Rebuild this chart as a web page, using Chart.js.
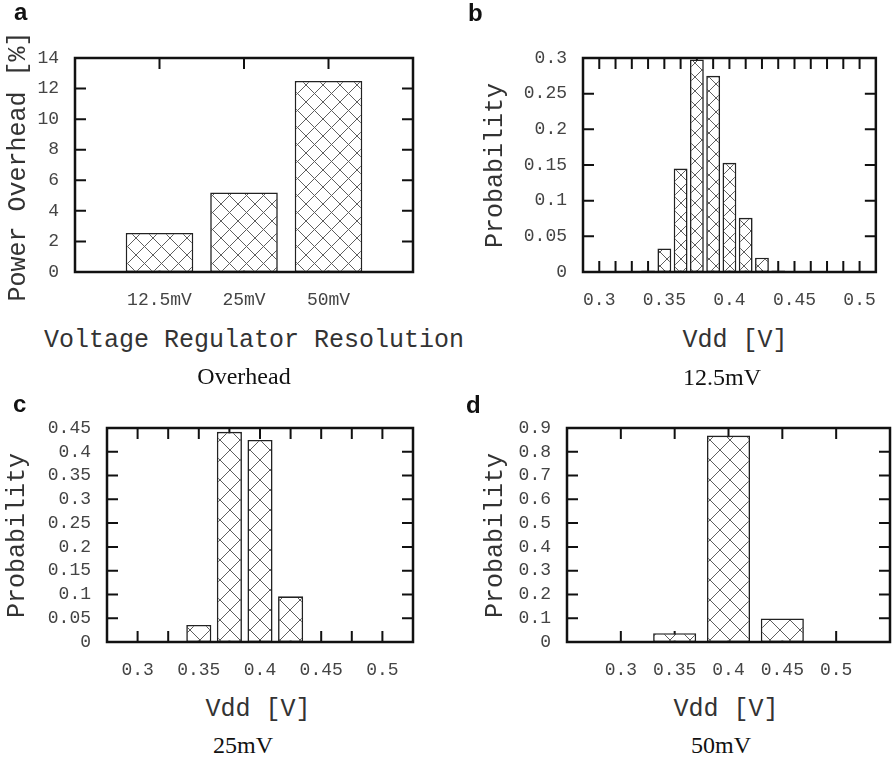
<!DOCTYPE html>
<html>
<head>
<meta charset="utf-8">
<script src="https://cdn.jsdelivr.net/npm/chart.js@4.4.1/dist/chart.umd.min.js"></script>
<style>
  body { margin: 0; background: #fff; }
  #page { position: relative; width: 893px; height: 759px; overflow: hidden; }
  #page canvas { position: absolute; }
  .txt { position: absolute; white-space: nowrap; text-align: center; }
</style>
</head>
<body>
<div id="page">
  <canvas id="chartA" width="440" height="320" style="left:0;top:0"></canvas>
  <canvas id="chartB" width="443" height="320" style="left:450px;top:0"></canvas>
  <canvas id="chartC" width="440" height="310" style="left:0;top:380px"></canvas>
  <canvas id="chartD" width="443" height="310" style="left:450px;top:380px"></canvas>
</div>
<script>
// (a) power overhead for each regulator resolution
const resolutions = ['12.5mV', '25mV', '50mV'];
const overheadPct = [2.55, 5.2, 12.5];
const overheadTicks = [0, 2, 4, 6, 8, 10, 12, 14];

// (b)-(d) Vdd distributions, bin centre -> probability
const vdd125 = [0.3375, 0.35, 0.3625, 0.375, 0.3875, 0.4, 0.4125, 0.425, 0.4375, 0.45];
const prob125 = [0.002, 0.033, 0.145, 0.298, 0.275, 0.153, 0.076, 0.020, 0.002, 0.001];
const vdd25 = [0.35, 0.375, 0.4, 0.425, 0.45];
const prob25 = [0.036, 0.442, 0.425, 0.096, 0.001];
const vdd50 = [0.35, 0.4, 0.45];
const prob50 = [0.037, 0.868, 0.099];

const vddTicks = [0.3, 0.35, 0.4, 0.45, 0.5];
const vddMarks125 = [0.3, 0.3125, 0.325, 0.3375, 0.35, 0.3625, 0.375, 0.3875, 0.4,
                     0.4125, 0.425, 0.4375, 0.45, 0.4625, 0.475, 0.4875, 0.5];
const vddMarks25 = [0.3, 0.325, 0.35, 0.375, 0.4, 0.425, 0.45, 0.475, 0.5];
const probTicks125 = [0, 0.05, 0.1, 0.15, 0.2, 0.25, 0.3];
const probTicks25 = [0, 0.05, 0.1, 0.15, 0.2, 0.25, 0.3, 0.35, 0.4, 0.45];
const probTicks50 = [0, 0.1, 0.2, 0.3, 0.4, 0.5, 0.6, 0.7, 0.8, 0.9];

const MONO = '"Liberation Mono", "Courier New", monospace';
const SERIF = '"Liberation Serif", "Times New Roman", serif';
const SANS = '"Liberation Sans", Arial, sans-serif';

// gnuplot-ish cross hatch fill
function crossHatch(size) {
  const c = document.createElement('canvas');
  c.width = c.height = size;
  const g = c.getContext('2d');
  g.fillStyle = '#fff';
  g.fillRect(0, 0, size, size);
  g.strokeStyle = '#5e5e5e';
  g.lineWidth = 1;
  g.beginPath();
  g.moveTo(0, 0); g.lineTo(size, size);
  g.moveTo(size, 0); g.lineTo(0, size);
  g.stroke();
  return g.createPattern(c, 'repeat');
}

// inward tick marks on all four sides + the box around the plot
const frameTicks = {
  id: 'frameTicks',
  beforeDatasetsDraw(chart, args, opts) {
    const { ctx, chartArea: a, scales: { x, y } } = chart;
    const len = 11;
    ctx.save();
    ctx.strokeStyle = '#111';
    ctx.lineWidth = 2;
    ctx.beginPath();
    opts.xMarks.forEach(v => {
      const px = x.getPixelForValue(v);
      ctx.moveTo(px, a.bottom); ctx.lineTo(px, a.bottom - len);
      ctx.moveTo(px, a.top); ctx.lineTo(px, a.top + len);
    });
    y.ticks.forEach(t => {
      const py = y.getPixelForValue(t.value);
      if (py <= a.top + 1 || py >= a.bottom - 1) return;
      ctx.moveTo(a.left, py); ctx.lineTo(a.left + len, py);
      ctx.moveTo(a.right, py); ctx.lineTo(a.right - len, py);
    });
    ctx.stroke();
    ctx.restore();
  },
  afterDatasetsDraw(chart) {
    const { ctx, chartArea: a } = chart;
    ctx.save();
    ctx.strokeStyle = '#111';
    ctx.lineWidth = 2.5;
    ctx.strokeRect(a.left, a.top, a.right - a.left, a.bottom - a.top);
    ctx.restore();
  }
};

const fmt = v => String(Math.round(v * 10000) / 10000);

function makePanel(id, p) {
  const ctx = document.getElementById(id).getContext('2d');
  const tickFont = { family: MONO, size: 18 };
  return new Chart(ctx, {
    type: 'bar',
    data: {
      datasets: [{
        data: p.xs.map((x, i) => ({ x: x, y: p.ys[i] })),
        backgroundColor: crossHatch(p.hatch),
        borderColor: '#222',
        borderWidth: 1.6,
        borderSkipped: false,
        barPercentage: p.barPct,
        categoryPercentage: 1
      }]
    },
    options: {
      responsive: false,
      animation: false,
      devicePixelRatio: 1,
      layout: { padding: { left: 0, right: p.padRight, top: p.padTop, bottom: 0 } },
      plugins: {
        legend: { display: false },
        tooltip: { enabled: false },
        frameTicks: { xMarks: p.xMarks }
      },
      scales: {
        x: {
          type: 'linear',
          offset: false,
          min: p.xMin,
          max: p.xMax,
          afterBuildTicks: s => { s.ticks = p.xTicks.map(v => ({ value: v })); },
          afterFit: s => { s.height = 48; },
          grid: { display: false, drawTicks: false, offset: false },
          border: { display: false },
          ticks: {
            callback: p.xLabel || fmt,
            font: tickFont, color: '#444', padding: 17,
            maxRotation: 0, autoSkip: false
          }
        },
        y: {
          min: 0,
          max: p.yMax,
          afterBuildTicks: s => { s.ticks = p.yTicks.map(v => ({ value: v })); },
          afterFit: s => { s.width = p.yWidth; },
          grid: { display: false, drawTicks: false },
          border: { display: false },
          ticks: { callback: fmt, font: tickFont, color: '#444', padding: 16, autoSkip: false }
        }
      }
    },
    plugins: [frameTicks]
  });
}

makePanel('chartA', {
  xs: [1, 2, 3], ys: overheadPct, xMin: 0, xMax: 4,
  xTicks: [1, 2, 3], xMarks: [1, 2, 3], xLabel: v => resolutions[v - 1] || '',
  yMax: 14, yTicks: overheadTicks, yWidth: 75, padTop: 58, padRight: 27,
  barPct: 0.8, hatch: 17
});
makePanel('chartB', {
  xs: vdd125, ys: prob125, xMin: 0.2875, xMax: 0.5125,
  xTicks: vddTicks, xMarks: vddMarks125,
  yMax: 0.3, yTicks: probTicks125, yWidth: 133, padTop: 58, padRight: 4,
  barPct: 0.85, hatch: 14
});
makePanel('chartC', {
  xs: vdd25, ys: prob25, xMin: 0.275, xMax: 0.525,
  xTicks: vddTicks, xMarks: vddMarks25,
  yMax: 0.45, yTicks: probTicks25, yWidth: 107, padTop: 48, padRight: 27,
  barPct: 0.82, hatch: 20
});
makePanel('chartD', {
  xs: vdd50, ys: prob50, xMin: 0.25, xMax: 0.55,
  xTicks: vddTicks, xMarks: vddTicks,
  yMax: 0.9, yTicks: probTicks50, yWidth: 117, padTop: 48, padRight: 3,
  barPct: 0.8, hatch: 20
});

// text placed by baseline; k = baseline offset for a line-height of 1em
const page = document.getElementById('page');
function addText(text, family, k, size, cx, baseline, opts) {
  opts = opts || {};
  const d = document.createElement('div');
  d.className = 'txt';
  d.textContent = text;
  d.style.fontFamily = family;
  d.style.fontSize = size + 'px';
  d.style.lineHeight = size + 'px';
  d.style.height = size + 'px';
  d.style.width = '400px';
  d.style.color = opts.color || '#111';
  if (opts.bold) d.style.fontWeight = 'bold';
  if (opts.rotate) {
    // baseline is a vertical line at x = baseline, text centred on y = cx
    const centerX = baseline - (k - 0.5) * size;
    d.style.left = (centerX - 200) + 'px';
    d.style.top = (cx - size / 2) + 'px';
    d.style.transform = 'rotate(-90deg)';
  } else if (opts.left) {
    d.style.textAlign = 'left';
    d.style.left = cx + 'px';
    d.style.top = (baseline - k * size) + 'px';
  } else {
    d.style.left = (cx - 200) + 'px';
    d.style.top = (baseline - k * size) + 'px';
  }
  page.appendChild(d);
}
const kMono = 0.7665, kSerif = 0.8375, kSans = 0.8465;

addText('a', SANS, kSans, 24, 14, 20, { bold: true, left: true });
addText('b', SANS, kSans, 24, 468, 21, { bold: true, left: true });
addText('c', SANS, kSans, 24, 13, 412, { bold: true, left: true });
addText('d', SANS, kSans, 24, 466, 413, { bold: true, left: true });

addText('Power Overhead [%]', MONO, kMono, 25, 166, 25, { rotate: true, color: '#333' });
addText('Probability', MONO, kMono, 25, 165, 502, { rotate: true, color: '#333' });
addText('Probability', MONO, kMono, 25, 535, 24, { rotate: true, color: '#333' });
addText('Probability', MONO, kMono, 25, 535, 502, { rotate: true, color: '#333' });

addText('Voltage Regulator Resolution', MONO, kMono, 25, 244, 347, { color: '#333' });
addText('Vdd [V]', MONO, kMono, 25, 735, 347, { color: '#333' });
addText('Vdd [V]', MONO, kMono, 25, 258, 716, { color: '#333' });
addText('Vdd [V]', MONO, kMono, 25, 726, 716, { color: '#333' });

addText('Overhead', SERIF, kSerif, 24, 244, 384);
addText('12.5mV', SERIF, kSerif, 24, 722, 385);
addText('25mV', SERIF, kSerif, 24, 243, 753);
addText('50mV', SERIF, kSerif, 24, 721, 753);
</script>
</body>
</html>
